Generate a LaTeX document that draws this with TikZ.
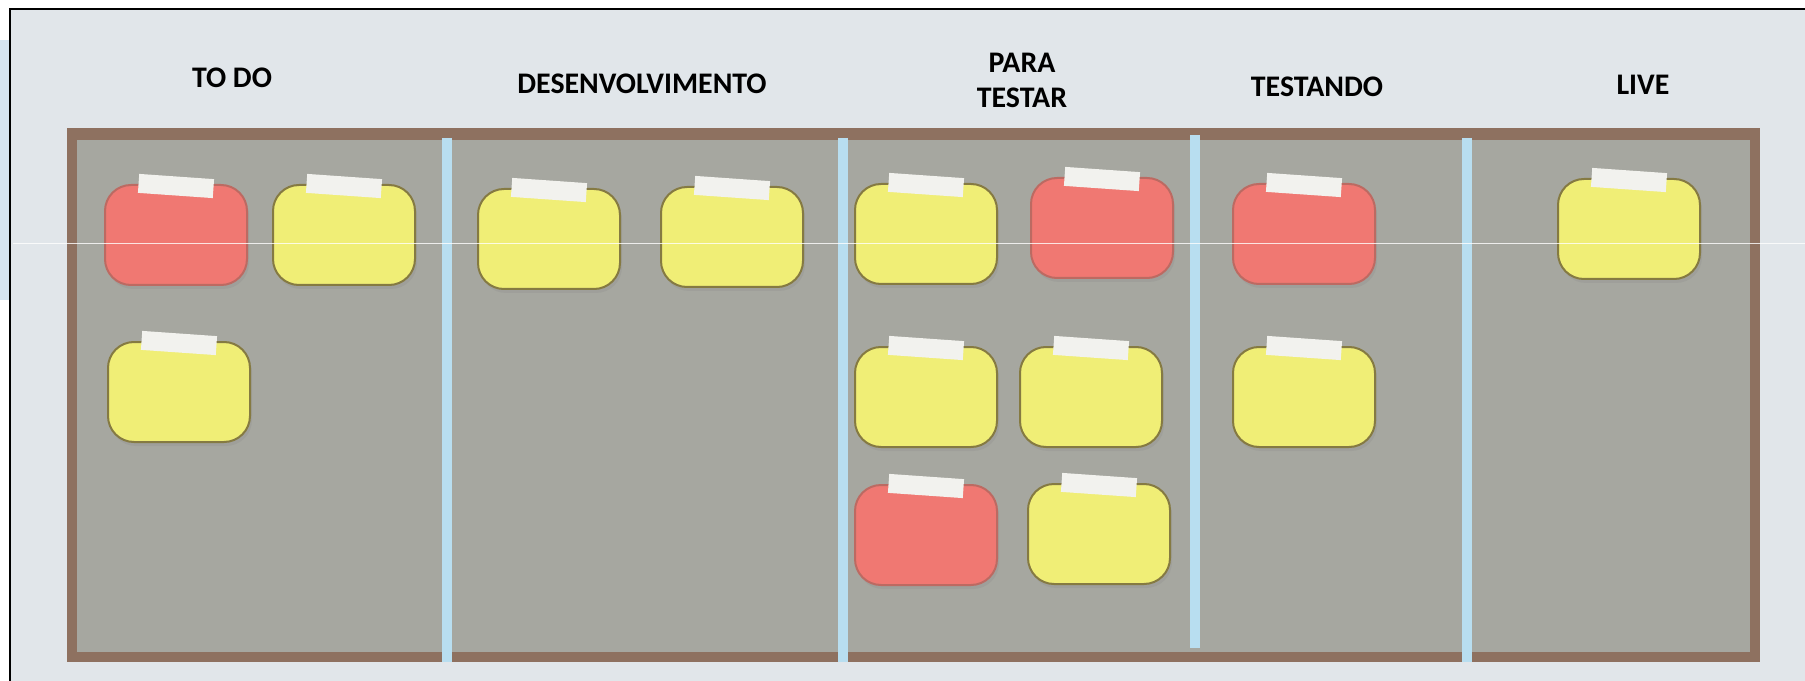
\documentclass[tikz,border=0pt]{standalone}
\usepackage{fontspec}
\setmainfont{Carlito}
\usetikzlibrary{shadows}

\definecolor{bgcol}{HTML}{E1E6EA}
\definecolor{stripcol}{HTML}{D6E4F0}
\definecolor{boardbrown}{HTML}{8E7160}
\definecolor{boardgrey}{HTML}{A6A7A0}
\definecolor{dividerblue}{HTML}{B8DEF0}
\definecolor{cardyellow}{HTML}{F0EE76}
\definecolor{cardred}{HTML}{F07872}
\definecolor{yellowedge}{HTML}{857A42}
\definecolor{rededge}{HTML}{BC6A62}
\definecolor{tapecol}{HTML}{F2F2EE}

\tikzset{
  header/.style={font=\fontsize{8.5}{10}\selectfont\bfseries, align=center, inner sep=0pt},
  card/.style={minimum width=14.2mm, minimum height=10mm, rounded corners=2.6mm,
    line width=0.2mm, inner sep=0pt,
    drop shadow={opacity=0.18, shadow xshift=0.2mm, shadow yshift=-0.4mm}},
  yellowcard/.style={card, fill=cardyellow, draw=yellowedge},
  redcard/.style={card, fill=cardred, draw=rededge},
  tape/.style={fill=tapecol, minimum width=7.5mm, minimum height=1.9mm, inner sep=0pt, rotate=-4},
  divider/.style={dividerblue, line width=1mm}
}

\begin{document}
\begin{tikzpicture}[x=0.1mm, y=-0.1mm]
  \useasboundingbox (0,0) rectangle (1805,681);

  % Drawing background and frame
  \fill[white] (0,0) rectangle (1805,681);
  \fill[stripcol] (0,40) rectangle (10,300);
  \fill[bgcol] (10,9) rectangle (1805,681);
  \draw[line width=0.25mm] (10,681) -- (10,9) -- (1805,9);

  % Drawing column headers
  \node[header] (todo) at (232,78) {TO DO};
  \node[header] (desenv) at (642,84) {DESENVOLVIMENTO};
  \node[header] (paratestar) at (1022,80) {PARA\\TESTAR};
  \node[header] (testando) at (1317,87) {TESTANDO};
  \node[header] (live) at (1643,85) {LIVE};

  % Drawing board
  \fill[boardbrown] (67,128) rectangle (1760,662);
  \fill[boardgrey] (77,140) rectangle (1750,652);

  % Drawing dividers
  \coordinate (d1top) at (447,138);  \coordinate (d1bot) at (447,662);
  \coordinate (d2top) at (843,138);  \coordinate (d2bot) at (843,662);
  \coordinate (d3top) at (1195,135); \coordinate (d3bot) at (1195,648);
  \coordinate (d4top) at (1467,138); \coordinate (d4bot) at (1467,662);
  \foreach \d in {d1,d2,d3,d4}
    \draw[divider] (\d top) -- (\d bot);

  % Drawing cards, TO DO
  \node[redcard] (todoA) at (176,235) {};
  \node[yellowcard] (todoB) at (344,235) {};
  \node[yellowcard] (todoC) at (179,392) {};

  % Drawing cards, DESENVOLVIMENTO
  \node[yellowcard] (desenvA) at (549,239) {};
  \node[yellowcard] (desenvB) at (732,237) {};

  % Drawing cards, PARA TESTAR
  \node[yellowcard] (paraA) at (926,234) {};
  \node[redcard] (paraB) at (1102,228) {};
  \node[yellowcard] (paraC) at (926,397) {};
  \node[yellowcard] (paraD) at (1091,397) {};
  \node[redcard] (paraE) at (926,535) {};
  \node[yellowcard] (paraF) at (1099,534) {};

  % Drawing cards, TESTANDO
  \node[redcard] (testA) at (1304,234) {};
  \node[yellowcard] (testB) at (1304,397) {};

  % Drawing cards, LIVE
  \node[yellowcard] (liveA) at (1629,229) {};

  % Marking tapes
  \foreach \c in {todoA,todoB,todoC,desenvA,desenvB,paraA,paraB,paraC,paraD,paraE,paraF,testA,testB,liveA}
    \node[tape] (\c tape) at ([yshift=-0.2mm]\c.north) {};

  % Drawing scan line
  \draw[white, line width=0.1mm, opacity=0.8] (13,244) -- (1805,244);
\end{tikzpicture}
\end{document}
